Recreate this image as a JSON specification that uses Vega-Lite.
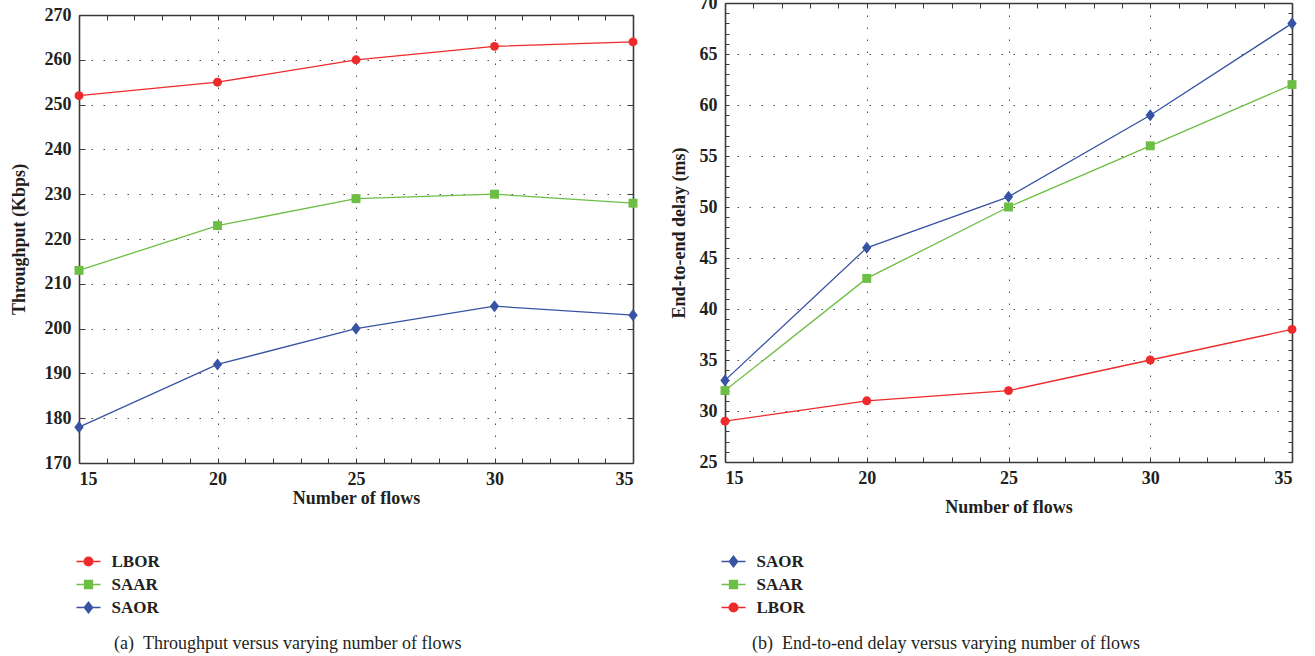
{
  "$schema": "https://vega.github.io/schema/vega-lite/v6.json",
  "padding": {"left": 10, "top": -6, "right": 0, "bottom": 0},
  "background": "white",
  "datasets": {
    "throughput": [
      {"flows": 15, "series": "LBOR", "kbps": 252},
      {"flows": 20, "series": "LBOR", "kbps": 255},
      {"flows": 25, "series": "LBOR", "kbps": 260},
      {"flows": 30, "series": "LBOR", "kbps": 263},
      {"flows": 35, "series": "LBOR", "kbps": 264},
      {"flows": 15, "series": "SAAR", "kbps": 213},
      {"flows": 20, "series": "SAAR", "kbps": 223},
      {"flows": 25, "series": "SAAR", "kbps": 229},
      {"flows": 30, "series": "SAAR", "kbps": 230},
      {"flows": 35, "series": "SAAR", "kbps": 228},
      {"flows": 15, "series": "SAOR", "kbps": 178},
      {"flows": 20, "series": "SAOR", "kbps": 192},
      {"flows": 25, "series": "SAOR", "kbps": 200},
      {"flows": 30, "series": "SAOR", "kbps": 205},
      {"flows": 35, "series": "SAOR", "kbps": 203}
    ],
    "delay": [
      {"flows": 15, "series": "SAOR", "ms": 33},
      {"flows": 20, "series": "SAOR", "ms": 46},
      {"flows": 25, "series": "SAOR", "ms": 51},
      {"flows": 30, "series": "SAOR", "ms": 59},
      {"flows": 35, "series": "SAOR", "ms": 68},
      {"flows": 15, "series": "SAAR", "ms": 32},
      {"flows": 20, "series": "SAAR", "ms": 43},
      {"flows": 25, "series": "SAAR", "ms": 50},
      {"flows": 30, "series": "SAAR", "ms": 56},
      {"flows": 35, "series": "SAAR", "ms": 62},
      {"flows": 15, "series": "LBOR", "ms": 29},
      {"flows": 20, "series": "LBOR", "ms": 31},
      {"flows": 25, "series": "LBOR", "ms": 32},
      {"flows": 30, "series": "LBOR", "ms": 35},
      {"flows": 35, "series": "LBOR", "ms": 38}
    ]
  },
  "spacing": 32,
  "resolve": {"scale": {"color": "independent", "shape": "independent", "stroke": "independent"}},
  "hconcat": [
    {
      "spacing": 2,
      "resolve": {"scale": {"color": "independent", "shape": "independent", "stroke": "independent"}},
      "vconcat": [
        {
          "width": 554,
          "height": 1,
          "data": {"values": []},
          "mark": {"type": "point", "opacity": 0}
        },
        {
          "width": 554,
          "height": 448,
          "data": {"name": "throughput"},
          "title": {
            "text": "(a)\u2002Throughput versus varying number of flows",
            "orient": "bottom", "anchor": "start", "frame": "group",
            "dx": 35, "offset": 19,
            "font": "Liberation Serif", "fontSize": 18, "fontWeight": "normal", "color": "#231f20"
          },
          "layer": [
            {
              "transform": [{"filter": "false"}],
              "mark": {"type": "point", "filled": true, "strokeWidth": 1.3},
              "encoding": {
                "color": {"field": "series", "type": "nominal",
                  "scale": {"domain": ["LBOR", "SAAR", "SAOR"], "range": ["#ee2a2a", "#6dbe45", "#3953a4"]},
                  "legend": {
                    "title": null, "orient": "none", "legendX": 1, "legendY": 538,
                    "symbolSize": 64, "symbolStrokeWidth": 1.3, "symbolOpacity": 1,
                    "labelOffset": 14.5, "rowPadding": 5,
                    "labelFont": "Liberation Serif", "labelFontSize": 17, "labelFontWeight": "bold", "labelColor": "#231f20"
                  }},
                "stroke": {"field": "series", "type": "nominal",
                  "scale": {"domain": ["LBOR", "SAAR", "SAOR"], "range": ["#ee2a2a", "#6dbe45", "#3953a4"]},
                  "legend": {
                    "title": null, "orient": "none", "legendX": 1, "legendY": 538,
                    "symbolSize": 64, "symbolStrokeWidth": 1.3, "symbolOpacity": 1,
                    "labelOffset": 14.5, "rowPadding": 5,
                    "labelFont": "Liberation Serif", "labelFontSize": 17, "labelFontWeight": "bold", "labelColor": "#231f20"
                  }},
                "shape": {"field": "series", "type": "nominal",
                  "scale": {"domain": ["LBOR", "SAAR", "SAOR"], "range": [
                    "M-3,0H3M1.1,0A1.1,1.1,0,1,1,-1.1,0A1.1,1.1,0,1,1,1.1,0Z",
                    "M-3,0H3M-1,-1H1V1H-1Z",
                    "M-3,0H3M0,-1.35L1.05,0L0,1.35L-1.05,0Z"]},
                  "legend": {
                    "title": null, "orient": "none", "legendX": 1, "legendY": 538,
                    "symbolSize": 64, "symbolStrokeWidth": 1.3, "symbolOpacity": 1,
                    "labelOffset": 14.5, "rowPadding": 5,
                    "labelFont": "Liberation Serif", "labelFontSize": 17, "labelFontWeight": "bold", "labelColor": "#231f20"
                  }}
              }
            },
            {
              "encoding": {
                "x": {"field": "flows", "type": "quantitative",
                  "scale": {"domain": [15, 35], "nice": false, "zero": false},
                  "axis": {
                    "title": "Number of flows", "titlePadding": 1,
                    "values": [15, 20, 25, 30, 35],
                    "ticks": false, "labelPadding": 7, "grid": true
                  }},
                "y": {"field": "kbps", "type": "quantitative",
                  "scale": {"domain": [170, 270], "nice": false, "zero": false},
                  "axis": {
                    "title": "Throughput (Kbps)", "titlePadding": 16,
                    "values": [170, 180, 190, 200, 210, 220, 230, 240, 250, 260, 270],
                    "ticks": true, "tickSize": -6, "labelPadding": 14, "grid": true
                  }},
                "color": {"field": "series", "type": "nominal",
                  "scale": {"domain": ["LBOR", "SAAR", "SAOR"], "range": ["#ee2a2a", "#6dbe45", "#3953a4"]},
                  "legend": null}
              },
              "layer": [
                {"mark": {"type": "line", "strokeWidth": 1.3}},
                {
                  "mark": {"type": "point", "filled": true, "size": 80, "opacity": 1},
                  "encoding": {
                    "shape": {"field": "series", "type": "nominal",
                      "scale": {"domain": ["LBOR", "SAAR", "SAOR"], "range": ["circle", "square", "M0,-1.35L1.05,0L0,1.35L-1.05,0Z"]},
                      "legend": null}
                  }
                }
              ]
            },
            {
              "mark": {"type": "point", "opacity": 0},
              "encoding": {
                "x": {"field": "flows", "type": "quantitative",
                  "scale": {"domain": [15, 35], "nice": false, "zero": false},
                  "axis": {"orient": "top", "title": null, "labels": false, "grid": false,
                    "values": [15,16,17,18,19,20,21,22,23,24,25,26,27,28,29,30,31,32,33,34,35],
                    "tickSize": -5}},
                "y": {"field": "kbps", "type": "quantitative",
                  "scale": {"domain": [170, 270], "nice": false, "zero": false},
                  "axis": {"orient": "right", "title": null, "labels": false, "grid": false,
                    "values": [170, 180, 190, 200, 210, 220, 230, 240, 250, 260, 270], "tickSize": -6}}
              }
            },
            {
              "mark": {"type": "point", "opacity": 0},
              "encoding": {
                "x": {"field": "flows", "type": "quantitative",
                  "scale": {"domain": [15, 35], "nice": false, "zero": false},
                  "axis": {"orient": "bottom", "title": null, "labels": false, "grid": false, "domain": false,
                    "values": [15,16,17,18,19,20,21,22,23,24,25,26,27,28,29,30,31,32,33,34,35],
                    "tickSize": -5}},
                "y": {"field": "kbps", "type": "quantitative",
                  "scale": {"domain": [170, 270], "nice": false, "zero": false},
                  "axis": null}
              }
            }
          ],
          "resolve": {"scale": {"x": "independent", "y": "independent", "shape": "independent", "color": "independent", "stroke": "independent"}}
        }
      ]
    },
    {
      "width": 567,
      "height": 459,
      "data": {"name": "delay"},
      "title": {
        "text": "(b)\u2002End-to-end delay versus varying number of flows",
        "orient": "bottom", "anchor": "start", "frame": "group",
        "dx": 27, "offset": 19,
        "font": "Liberation Serif", "fontSize": 18, "fontWeight": "normal", "color": "#231f20"
      },
      "layer": [
        {
          "transform": [{"filter": "false"}],
          "mark": {"type": "point", "filled": true, "strokeWidth": 1.3},
          "encoding": {
            "color": {"field": "series", "type": "nominal",
              "scale": {"domain": ["SAOR", "SAAR", "LBOR"], "range": ["#3953a4", "#6dbe45", "#ee2a2a"]},
              "legend": {
                "title": null, "orient": "none", "legendX": 0, "legendY": 550,
                "symbolSize": 64, "symbolStrokeWidth": 1.3, "symbolOpacity": 1,
                "labelOffset": 14.5, "rowPadding": 5,
                "labelFont": "Liberation Serif", "labelFontSize": 17, "labelFontWeight": "bold", "labelColor": "#231f20"
              }},
            "stroke": {"field": "series", "type": "nominal",
              "scale": {"domain": ["SAOR", "SAAR", "LBOR"], "range": ["#3953a4", "#6dbe45", "#ee2a2a"]},
              "legend": {
                "title": null, "orient": "none", "legendX": 0, "legendY": 550,
                "symbolSize": 64, "symbolStrokeWidth": 1.3, "symbolOpacity": 1,
                "labelOffset": 14.5, "rowPadding": 5,
                "labelFont": "Liberation Serif", "labelFontSize": 17, "labelFontWeight": "bold", "labelColor": "#231f20"
              }},
            "shape": {"field": "series", "type": "nominal",
              "scale": {"domain": ["SAOR", "SAAR", "LBOR"], "range": [
                "M-3,0H3M0,-1.35L1.05,0L0,1.35L-1.05,0Z",
                "M-3,0H3M-1,-1H1V1H-1Z",
                "M-3,0H3M1.1,0A1.1,1.1,0,1,1,-1.1,0A1.1,1.1,0,1,1,1.1,0Z"]},
              "legend": {
                "title": null, "orient": "none", "legendX": 0, "legendY": 550,
                "symbolSize": 64, "symbolStrokeWidth": 1.3, "symbolOpacity": 1,
                "labelOffset": 14.5, "rowPadding": 5,
                "labelFont": "Liberation Serif", "labelFontSize": 17, "labelFontWeight": "bold", "labelColor": "#231f20"
              }}
          }
        },
        {
          "encoding": {
            "x": {"field": "flows", "type": "quantitative",
              "scale": {"domain": [15, 35], "nice": false, "zero": false},
              "axis": {
                "title": "Number of flows", "titlePadding": 11,
                "values": [15, 20, 25, 30, 35],
                "ticks": false, "labelPadding": 7, "grid": true
              }},
            "y": {"field": "ms", "type": "quantitative",
              "scale": {"domain": [25, 70], "nice": false, "zero": false},
              "axis": {
                "title": "End-to-end delay (ms)", "titlePadding": 11,
                "values": [25, 30, 35, 40, 45, 50, 55, 60, 65, 70],
                "ticks": false, "labelPadding": 8, "grid": true
              }},
            "color": {"field": "series", "type": "nominal",
              "scale": {"domain": ["SAOR", "SAAR", "LBOR"], "range": ["#3953a4", "#6dbe45", "#ee2a2a"]},
              "legend": null}
          },
          "layer": [
            {"mark": {"type": "line", "strokeWidth": 1.3}},
            {
              "mark": {"type": "point", "filled": true, "size": 80, "opacity": 1},
              "encoding": {
                "shape": {"field": "series", "type": "nominal",
                  "scale": {"domain": ["SAOR", "SAAR", "LBOR"], "range": ["M0,-1.35L1.05,0L0,1.35L-1.05,0Z", "square", "circle"]},
                  "legend": null}
              }
            }
          ]
        },
        {
          "mark": {"type": "point", "opacity": 0},
          "encoding": {
            "x": {"field": "flows", "type": "quantitative",
              "scale": {"domain": [15, 35], "nice": false, "zero": false},
              "axis": {"orient": "top", "title": null, "labels": false, "grid": false,
                "values": [15,16,17,18,19,20,21,22,23,24,25,26,27,28,29,30,31,32,33,34,35],
                "tickSize": -5}},
            "y": {"field": "ms", "type": "quantitative",
              "scale": {"domain": [25, 70], "nice": false, "zero": false},
              "axis": {"orient": "right", "title": null, "labels": false, "grid": false,
                "values": [25,26,27,28,29,30,31,32,33,34,35,36,37,38,39,40,41,42,43,44,45,46,47,48,49,50,51,52,53,54,55,56,57,58,59,60,61,62,63,64,65,66,67,68,69,70],
                "tickSize": -4}}
          }
        },
        {
          "mark": {"type": "point", "opacity": 0},
          "encoding": {
            "x": {"field": "flows", "type": "quantitative",
              "scale": {"domain": [15, 35], "nice": false, "zero": false},
              "axis": {"orient": "bottom", "title": null, "labels": false, "grid": false, "domain": false,
                "values": [15,16,17,18,19,20,21,22,23,24,25,26,27,28,29,30,31,32,33,34,35],
                "tickSize": -5}},
            "y": {"field": "ms", "type": "quantitative",
              "scale": {"domain": [25, 70], "nice": false, "zero": false},
              "axis": {"orient": "left", "title": null, "labels": false, "grid": false, "domain": false,
                "values": [25,26,27,28,29,30,31,32,33,34,35,36,37,38,39,40,41,42,43,44,45,46,47,48,49,50,51,52,53,54,55,56,57,58,59,60,61,62,63,64,65,66,67,68,69,70],
                "tickSize": -4}}
          }
        }
      ],
      "resolve": {"scale": {"x": "independent", "y": "independent", "shape": "independent", "color": "independent", "stroke": "independent"}}
    }
  ],
  "config": {
    "font": "Liberation Serif",
    "view": {"stroke": null},
    "axis": {
      "labelFont": "Liberation Serif", "labelFontSize": 18, "labelFontWeight": "bold", "labelColor": "#231f20",
      "labelOverlap": false,
      "titleFont": "Liberation Serif", "titleFontSize": 18, "titleFontWeight": "bold", "titleColor": "#231f20",
      "domainColor": "#3a3a3a", "domainWidth": 1.6,
      "tickColor": "#3a3a3a", "tickWidth": 1,
      "gridColor": "#4a4a4a", "gridDash": [1.5, 10.5], "gridWidth": 1
    }
  }
}
